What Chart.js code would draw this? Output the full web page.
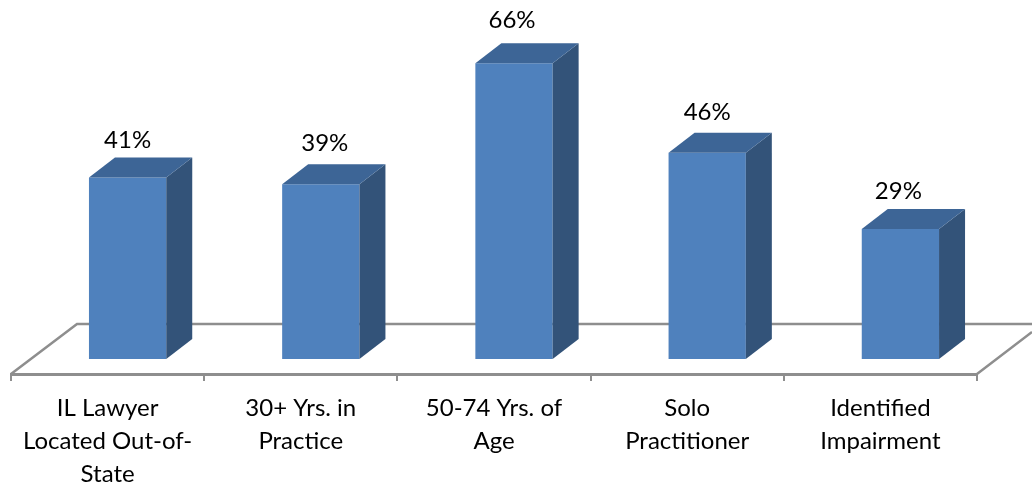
<!DOCTYPE html>
<html>
<head>
<meta charset="utf-8">
<script src="https://cdn.jsdelivr.net/npm/chart.js@4/dist/chart.umd.js"></script>
<style>
html, body { margin: 0; padding: 0; background: #fff; }
#wrap { width: 1032px; height: 485px; }
</style>
</head>
<body>
<div id="wrap"><canvas id="chart"></canvas></div>
<script>
var categories = [
    ['IL Lawyer', 'Located Out-of-', 'State'],
    ['30+ Yrs. in', 'Practice'],
    ['50-74 Yrs. of', 'Age'],
    ['Solo', 'Practitioner'],
    ['Identified', 'Impairment']
];
var shares = [40.5, 39, 66, 46, 29];

var fontFamily = 'Lato, "Open Sans", sans-serif';
var lineGrey = '#8e8e8e';
var frontColor = '#4f81bd';
var sideColor = '#335379';
var topColor = '#3d6596';

// fake 3D: how far the back of a bar sits from its front
var depthX = 26, depthY = 20;
var barShift = 20;
var floorBackX = 66, floorBackY = 50;

// the value labels were placed by hand in the original
var labelNudgeX = [0, 4, -2, 0, -2];
var labelNudgeY = [3, -1, -3, -1, 2];

var floorPlugin = {
    id: 'floor',
    beforeDatasetsDraw: function (chart) {
        var c = chart.ctx, a = chart.chartArea;
        c.save();
        c.strokeStyle = lineGrey;
        c.lineWidth = 2.5;
        c.beginPath();
        c.moveTo(a.left, a.bottom);
        c.lineTo(a.left + floorBackX, a.bottom - floorBackY);
        c.lineTo(chart.width, a.bottom - floorBackY);
        c.moveTo(a.right, a.bottom);
        c.lineTo(chart.width, a.bottom - 42);
        c.stroke();
        c.restore();
    }
};

var poly = function (c, color, pts) {
    c.fillStyle = color;
    c.beginPath();
    c.moveTo(pts[0][0], pts[0][1]);
    for (var i = 1; i < pts.length; i++) c.lineTo(pts[i][0], pts[i][1]);
    c.closePath();
    c.fill();
};

var bar3dPlugin = {
    id: 'bar3d',
    afterDatasetsUpdate: function (chart) {
        // bars stand a little right of their tick label, as in a 3D column chart
        chart.getDatasetMeta(0).data.forEach(function (b) { b.x += barShift; });
    },
    afterDatasetsDraw: function (chart) {
        var c = chart.ctx;
        c.save();
        chart.getDatasetMeta(0).data.forEach(function (b, i) {
            var l = b.x - b.width / 2, r = b.x + b.width / 2;
            poly(c, sideColor, [[r, b.y], [r + depthX, b.y - depthY], [r + depthX, b.base - depthY], [r, b.base]]);
            poly(c, topColor, [[l, b.y], [l + depthX, b.y - depthY], [r + depthX, b.y - depthY], [r, b.y]]);
            c.fillStyle = '#000';
            c.font = '24px ' + fontFamily;
            c.textAlign = 'center';
            c.textBaseline = 'middle';
            c.fillText(Math.round(shares[i]) + '%', b.x + labelNudgeX[i], b.y - 40 + labelNudgeY[i]);
        });
        c.restore();
    }
};

new Chart(document.getElementById('chart'), {
    type: 'bar',
    data: {
        labels: categories,
        datasets: [{
            data: shares,
            backgroundColor: frontColor,
            categoryPercentage: 1,
            barPercentage: 0.4
        }]
    },
    options: {
        responsive: true,
        maintainAspectRatio: false,
        animation: false,
        layout: { padding: { left: 11, right: 55, top: 0, bottom: 0 } },
        plugins: { legend: { display: false }, tooltip: { enabled: false } },
        scales: {
            x: {
                afterFit: function (scale) { scale.height = 111; },
                grid: { drawOnChartArea: false, color: lineGrey, lineWidth: 2, tickLength: 7 },
                border: { color: lineGrey, width: 3 },
                ticks: {
                    autoSkip: false,
                    maxRotation: 0,
                    color: '#000',
                    padding: 11,
                    font: { family: fontFamily, size: 24, lineHeight: 1.37 }
                }
            },
            y: { display: false, min: -3.35, max: 80.1 }
        }
    },
    plugins: [floorPlugin, bar3dPlugin]
});
</script>
</body>
</html>
